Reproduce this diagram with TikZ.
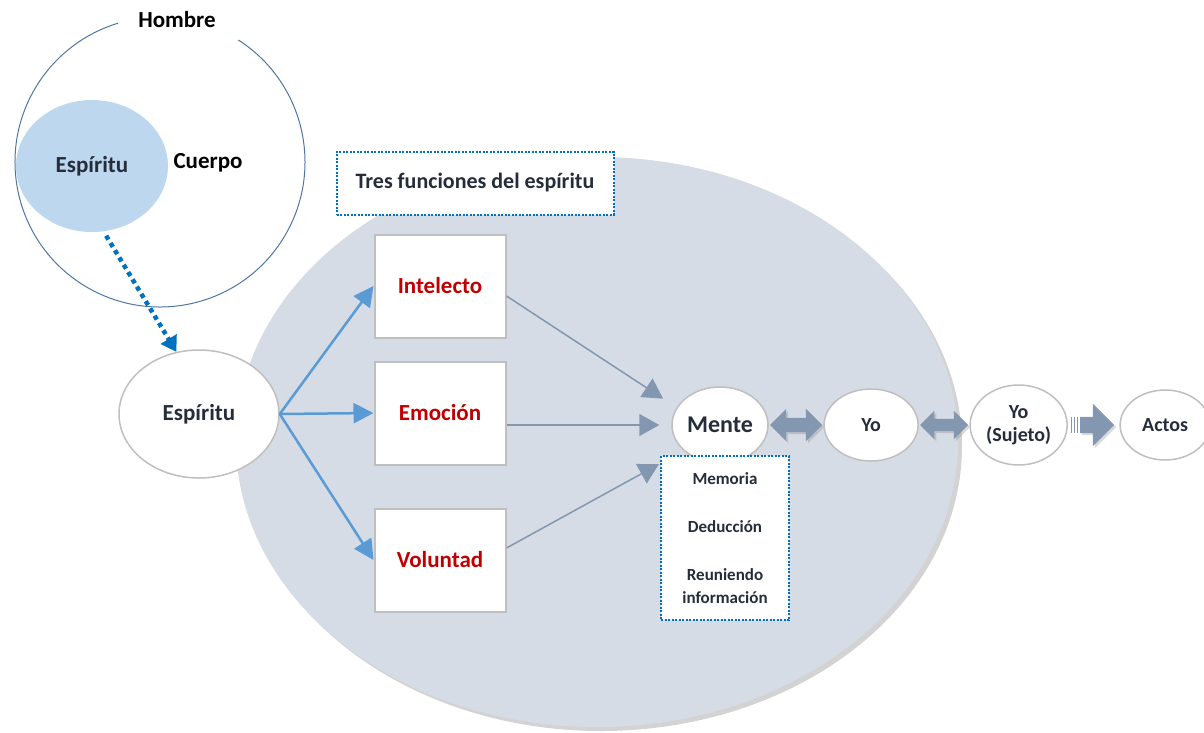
\documentclass[tikz,border=0pt]{standalone}
\usepackage{fontspec}
\setmainfont{Carlito}
\usetikzlibrary{positioning,shapes.geometric,shapes.arrows,arrows.meta,shadows}

\definecolor{darktext}{RGB}{38,45,58}
\definecolor{funred}{RGB}{192,0,0}
\definecolor{hombreline}{RGB}{79,118,163}
\definecolor{espfill}{RGB}{189,215,238}
\definecolor{areafill}{RGB}{214,220,229}
\definecolor{dotblue}{RGB}{0,112,192}
\definecolor{arrowblue}{RGB}{91,155,213}
\definecolor{linkgray}{RGB}{132,151,176}
\definecolor{ovalgray}{RGB}{191,191,191}

\begin{document}
\begin{tikzpicture}[x=1pt,y=-1pt,
  every text node part/.style={align=center},
  every node/.style={font=\bfseries\fontsize{23}{27}\selectfont, text=darktext},
  oval/.style={draw=ovalgray, line width=1.5pt, fill=white, shape=ellipse, inner sep=0pt},
  funcbox/.style={draw=ovalgray, line width=2pt, fill=white, shape=rectangle,
    minimum width=131pt, minimum height=103pt, text=funred},
  dotbox/.style={draw=dotblue, line width=2pt, dash pattern=on 2pt off 1.5pt,
    fill=white, shape=rectangle},
  bluearrow/.style={draw=arrowblue, line width=2.5pt, -{Triangle[length=20pt,width=20pt]}},
  grayarrow/.style={draw=linkgray, line width=1.5pt, -{Triangle[length=20pt,width=22pt]}},
  blockarrow/.style={fill=linkgray, inner xsep=0pt,
    drop shadow={opacity=0.3, shadow xshift=2pt, shadow yshift=-2pt}}]
\useasboundingbox (0,0) rectangle (1204,732);

\node (area) [shape=ellipse, fill=areafill, minimum width=722pt, minimum height=570pt,
  drop shadow={opacity=0.35, shadow xshift=4pt, shadow yshift=-4pt}] at (597,442) {};

% Hombre
\draw[hombreline, line width=1pt] (160,162) ++(302.7:145) arc[start angle=302.7, end angle=613.2, radius=145];
\node (hombre) [text=black] at (177,20) {Hombre};
\node (espin) [shape=ellipse, fill=espfill, inner sep=0pt, minimum width=152pt, minimum height=132pt] at (92,166) {Espíritu};
\node (cuerpo) [text=black] at (208,163) {Cuerpo};

\node (titulo) [dotbox, minimum width=277pt, minimum height=63pt, font=\bfseries\fontsize{22}{26}\selectfont] at (475,183) {Tres funciones del espíritu};

\node (esp) [oval, minimum width=160pt, minimum height=128pt] at (199,414) {Espíritu};
\node (intel) [funcbox] at (440,286) {Intelecto};
\node (emo) [funcbox, below=22pt of intel] {Emoción};
\node (vol) [funcbox, below=42pt of emo] {Voluntad};

\node (mente) [oval, minimum width=96pt, minimum height=76pt, font=\bfseries\fontsize{24}{28}\selectfont] at (720,425) {Mente};
\node (lista) [dotbox, minimum width=128pt, minimum height=164pt, font=\bfseries\fontsize{17}{23}\selectfont]
  at (725,538) {Memoria\\[25pt]Deducción\\[25pt]Reuniendo\\información};
\node (f1) [blockarrow, double arrow, minimum height=52pt, inner ysep=7pt,
  double arrow head extend=9pt, right=1pt of mente] {};
\node (yo) [oval, minimum width=94pt, minimum height=72pt, font=\bfseries\fontsize{20}{24}\selectfont, right=1pt of f1] {Yo};
\node (f2) [blockarrow, double arrow, minimum height=48pt, inner ysep=6pt,
  double arrow head extend=8pt, right=1pt of yo] {};
\node (sujeto) [oval, minimum width=97pt, minimum height=80pt, font=\bfseries\fontsize{20}{23}\selectfont, right=1pt of f2] {Yo\\(Sujeto)};
\node (f3) [blockarrow, single arrow, minimum height=34pt, inner ysep=8pt,
  single arrow head extend=13pt, right=12pt of sujeto] {};
\foreach \d in {3,6,9}
  \fill[linkgray] ([xshift=-\d pt]f3.west) ++(0,-8) rectangle ++(1.5,16);
\node (actos) [oval, minimum width=90pt, minimum height=70pt, font=\bfseries\fontsize{20}{24}\selectfont, right=5pt of f3] {Actos};

\draw[dotblue, line width=4.5pt, dash pattern=on 4.5pt off 4pt, shorten <=5pt,
  -{Triangle[length=15pt,width=18pt]}] (espin.-80) -- (esp.110);
\draw[bluearrow] (esp.east) -- (intel.west);
\draw[bluearrow] (esp.east) -- (emo.west);
\draw[bluearrow] (esp.east) -- (vol.west);
\draw[grayarrow, shorten >=16pt] ([yshift=-10pt]intel.east) -- (mente.158);
\draw[grayarrow, shorten >=12pt] ([yshift=-12pt]emo.east) -- (mente.west);
\draw[grayarrow, shorten >=28pt] ([yshift=12pt]vol.east) -- (mente.215);
\end{tikzpicture}
\end{document}
